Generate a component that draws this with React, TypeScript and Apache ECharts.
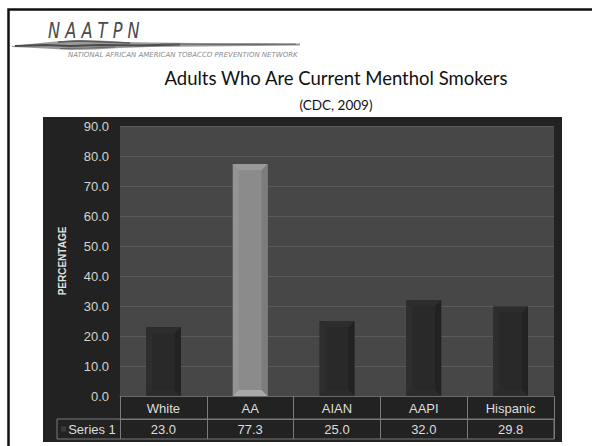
import React, { useEffect, useRef } from "react";
import * as echarts from "echarts";

const categories = ["White", "AA", "AIAN", "AAPI", "Hispanic"];
const series1Values = [23.0, 77.3, 25.0, 32.0, 29.8];
const seriesName = "Series 1";
const yTicks = { min: 0, max: 90, interval: 10 };
const highlightCategory = "AA";
const titleText = "Adults Who Are Current Menthol Smokers";
const subtitleText = "(CDC, 2009)";
const logoText = "N A A T P N";
const logoSubText = "NATIONAL AFRICAN AMERICAN TOBACCO PREVENTION NETWORK";
const yAxisTitle = "PERCENTAGE";

const darkBar = { face: "#292929", left: "#2e2e2e", right: "#222222", top: "#2d2d2d", bottom: "#2c2c2c" };
const lightBar = { face: "#8b8b8b", left: "#949494", right: "#7c7c7c", top: "#9a9a9a", bottom: "#a9a9a9" };
const tableLine = "#7a7a7a";
const FONT = "Liberation Sans, Arial, sans-serif";

export default function App() {
  const ref = useRef<HTMLDivElement>(null);
  useEffect(() => {
    if (!ref.current) return;
    const chart = echarts.init(ref.current, null, { renderer: "svg" });
    const option: any = {
      animation: false,
      grid: {
        left: 120,
        right: 38,
        top: 126,
        bottom: 50,
        show: true,
        backgroundColor: "#474747",
        borderWidth: 0,
      },
      xAxis: [
        {
          type: "category",
          data: categories,
          position: "bottom",
          axisLine: { show: true, lineStyle: { color: "#6a6a6a", width: 1 } },
          axisTick: { show: true, length: 23, lineStyle: { color: tableLine, width: 1 } },
          axisLabel: { color: "#dedede", fontSize: 13, fontFamily: FONT, margin: 6 },
          splitLine: { show: false },
        },
        {
          type: "category",
          data: series1Values.map((v) => v.toFixed(1)),
          position: "bottom",
          offset: 23,
          axisLine: { show: true, lineStyle: { color: tableLine, width: 1 } },
          axisTick: { show: true, length: 20, lineStyle: { color: tableLine, width: 1 } },
          axisLabel: { color: "#dedede", fontSize: 13, fontFamily: FONT, margin: 4 },
          splitLine: { show: false },
        },
      ],
      yAxis: {
        type: "value",
        min: yTicks.min,
        max: yTicks.max,
        interval: yTicks.interval,
        name: yAxisTitle,
        nameLocation: "middle",
        nameRotate: 90,
        nameGap: 53,
        nameTextStyle: { color: "#e0e0e0", fontSize: 10, fontWeight: "bold", fontFamily: FONT },
        axisLine: { show: false },
        axisTick: { show: false },
        axisLabel: {
          color: "#d2d2d2",
          fontSize: 13,
          fontFamily: FONT,
          margin: 11,
          formatter: (v: number) => v.toFixed(1),
        },
        splitLine: { show: true, lineStyle: { color: "#5a5a5a", width: 1 } },
      },
      series: [
        {
          type: "custom",
          name: seriesName,
          xAxisIndex: 0,
          data: series1Values.map((v, i) => [i, v]),
          encode: { x: 0, y: 1 },
          renderItem: (params: any, api: any) => {
            const idx = api.value(0);
            const v = api.value(1);
            const topPt = api.coord([idx, v]);
            const basePt = api.coord([idx, 0]);
            const band = api.size([1, 0])[0];
            const w = band * 0.4;
            const x0 = topPt[0] - w / 2;
            const x1 = topPt[0] + w / 2;
            const y0 = topPt[1];
            const y1 = basePt[1];
            const b = 6;
            const c = categories[idx] === highlightCategory ? lightBar : darkBar;
            return {
              type: "group",
              children: [
                { type: "rect", shape: { x: x0, y: y0, width: w, height: y1 - y0 }, style: { fill: c.face } },
                { type: "polygon", shape: { points: [[x0, y0], [x0 + b, y0 + b], [x0 + b, y1 - b], [x0, y1]] }, style: { fill: c.left } },
                { type: "polygon", shape: { points: [[x1, y0], [x1 - b, y0 + b], [x1 - b, y1 - b], [x1, y1]] }, style: { fill: c.right } },
                { type: "polygon", shape: { points: [[x0, y0], [x1, y0], [x1 - b, y0 + b], [x0 + b, y0 + b]] }, style: { fill: c.top } },
                { type: "polygon", shape: { points: [[x0, y1], [x1, y1], [x1 - b, y1 - b], [x0 + b, y1 - b]] }, style: { fill: c.bottom } },
              ],
            };
          },
        },
      ],
      graphic: [
        {
          type: "rect",
          z: -10,
          shape: { x: 43, y: 117, width: 519, height: 325 },
          style: { fill: "#222222" },
        },
        {
          type: "polyline",
          shape: { points: [[8.5, 446], [8.5, 9.5], [592, 9.5]] },
          style: { stroke: "#111111", lineWidth: 2.5, fill: "none" },
        },
        {
          type: "polygon",
          shape: {
            points: [[12, 46], [30, 44], [50, 42], [75, 40], [100, 40.5], [125, 42], [150, 42.5], [200, 43], [250, 43], [300, 43.5], [300, 45.5], [250, 46], [200, 46.5], [150, 47], [120, 48], [95, 49.5], [70, 50], [45, 48.5], [25, 47.5], [12, 47]],
          },
          style: { fill: "#9a9a9a" },
        },
        {
          type: "polyline",
          shape: { points: [[15, 46], [45, 45], [70, 46], [100, 45], [140, 45.5], [180, 44.5]] },
          style: { stroke: "#4a4a4a", lineWidth: 2, fill: "none" },
        },
        {
          type: "polyline",
          shape: { points: [[58, 42], [80, 41], [105, 42], [130, 43]] },
          style: { stroke: "#5a5a5a", lineWidth: 1.5, fill: "none" },
        },
        {
          type: "polyline",
          shape: { points: [[60, 48.5], [90, 48], [115, 47]] },
          style: { stroke: "#666666", lineWidth: 1.2, fill: "none" },
        },
        {
          type: "polyline",
          shape: { points: [[160, 44], [230, 44.5], [296, 44.2]] },
          style: { stroke: "#666666", lineWidth: 1, fill: "none" },
        },
        {
          type: "text",
          x: 48,
          y: 41,
          scaleX: 0.77,
          style: {
            text: logoText,
            fill: "#4a4a4a",
            font: "italic 21px 'DejaVu Sans', sans-serif",
            textAlign: "left",
            textVerticalAlign: "bottom",
          },
        },
        {
          type: "text",
          x: 68,
          y: 54.5,
          style: {
            text: logoSubText,
            fill: "#8a8a8a",
            font: "italic 7px 'DejaVu Sans', sans-serif",
            textAlign: "left",
            textVerticalAlign: "middle",
          },
        },
        {
          type: "text",
          x: 336,
          y: 78,
          style: {
            text: titleText,
            fill: "#111111",
            font: "18.5px Lato, 'Open Sans', sans-serif",
            textAlign: "center",
            textVerticalAlign: "middle",
          },
        },
        {
          type: "text",
          x: 336,
          y: 105,
          style: {
            text: subtitleText,
            fill: "#111111",
            font: "13.5px Lato, 'Open Sans', sans-serif",
            textAlign: "center",
            textVerticalAlign: "middle",
          },
        },
        {
          type: "rect",
          shape: { x: 57, y: 419, width: 497, height: 20 },
          style: { fill: "none", stroke: tableLine, lineWidth: 1 },
        },
        {
          type: "rect",
          shape: { x: 61, y: 426.5, width: 5, height: 5 },
          style: { fill: "#3a3a3a" },
        },
        {
          type: "text",
          x: 92,
          y: 429,
          style: {
            text: seriesName,
            fill: "#dedede",
            font: `13px ${FONT}`,
            textAlign: "center",
            textVerticalAlign: "middle",
          },
        },
      ],
    };
    chart.setOption(option);
    return () => chart.dispose();
  }, []);
  return (
    <div
      ref={ref}
      style={{ position: "fixed", left: 0, top: 0, width: 592, height: 446, background: "#ffffff" }}
    />
  );
}
